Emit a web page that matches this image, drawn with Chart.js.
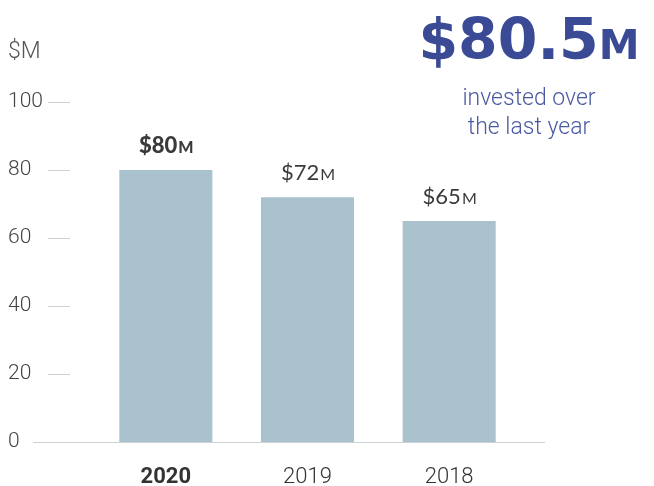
<!DOCTYPE html>
<html>
<head>
<meta charset="utf-8">
<script src="https://cdn.jsdelivr.net/npm/chart.js@4"></script>
<style>
  body { margin: 0; background: #fff; }
  #wrap { position: relative; width: 654px; height: 486px; }
  #unit { position: absolute; left: 8px; top: 37px; font: 300 23px Roboto, sans-serif; color: #555; }
  #headline { position: absolute; left: 404px; width: 250px; top: 8px; text-align: center; color: #3a4a94; }
  #headline .big { font: bold 57px "DejaVu Sans", sans-serif; line-height: 63px; letter-spacing: 0; }
  #headline .big span { font-size: 41px; }
  #headline .sub { font: 300 23px Roboto, sans-serif; line-height: 29px; color: #4a5aa2; margin-top: 6px; }
</style>
</head>
<body>
<div id="wrap">
  <canvas id="chart" width="654" height="486"></canvas>
  <div id="unit">$M</div>
  <div id="headline">
    <div class="big" id="big"></div>
    <div class="sub">invested over<br>the last year</div>
  </div>
</div>
<script>
const years = ["2020", "2019", "2018"];
const invested = [80, 72, 65];   // $M
const yTicks = [0, 20, 40, 60, 80, 100];
const lastYearTotal = 80.5;

document.getElementById("big").innerHTML = "$" + lastYearTotal + "<span>M</span>";

// baseline + short tick dashes next to the y labels
const axisDecor = {
  id: "axisDecor",
  beforeDatasetsDraw(chart) {
    const ctx = chart.ctx;
    const y = chart.scales.y;
    ctx.save();
    ctx.strokeStyle = "#cfd2d4";
    ctx.lineWidth = 1;
    yTicks.forEach(function (v) {
      const py = Math.round(y.getPixelForValue(v)) + 0.5;
      ctx.beginPath();
      if (v === 0) {
        ctx.moveTo(33, py);
        ctx.lineTo(545, py);
      } else {
        ctx.moveTo(48, py);
        ctx.lineTo(70, py);
      }
      ctx.stroke();
    });
    ctx.restore();
  },
};

// "$80M" style labels above the bars
const barLabels = {
  id: "barLabels",
  afterDatasetsDraw(chart) {
    const ctx = chart.ctx;
    const bars = chart.getDatasetMeta(0).data;
    ctx.save();
    ctx.fillStyle = "#3a3a3a";
    ctx.textBaseline = "alphabetic";
    bars.forEach(function (bar, i) {
      const weight = i === 0 ? "900" : "400";
      const main = "$" + invested[i];
      ctx.font = weight + " 22px Lato, sans-serif";
      const w1 = ctx.measureText(main).width;
      ctx.font = weight + " 16px Lato, sans-serif";
      const w2 = ctx.measureText("M").width;
      const x0 = bar.x - (w1 + w2) / 2;
      const yb = bar.y - 17;
      ctx.textAlign = "left";
      ctx.font = weight + " 22px Lato, sans-serif";
      ctx.fillText(main, x0, yb);
      ctx.font = weight + " 16px Lato, sans-serif";
      ctx.fillText("M", x0 + w1 + 1, yb);
    });
    ctx.restore();
  },
};

new Chart(document.getElementById("chart"), {
  type: "bar",
  data: {
    labels: years,
    datasets: [
      {
        data: invested,
        backgroundColor: "#a9c2ce",
        borderWidth: 0,
        categoryPercentage: 1,
        barPercentage: 0.657,
      },
    ],
  },
  options: {
    responsive: false,
    animation: false,
    layout: { padding: { left: 8, right: 134, top: 102, bottom: 0 } },
    plugins: { legend: { display: false }, tooltip: { enabled: false } },
    scales: {
      x: {
        grid: { display: false },
        border: { display: false },
        ticks: {
          padding: 14,
          color: "#333",
          font: function (c) {
            return { family: "Roboto", size: 22, weight: c.index === 0 ? "bold" : "300" };
          },
        },
        afterFit: function (s) { s.height = 44; },
      },
      y: {
        min: 0,
        max: 100,
        grid: { display: false },
        border: { display: false },
        afterBuildTicks: function (s) { s.ticks = yTicks.map(function (v) { return { value: v }; }); },
        ticks: {
          crossAlign: "far",
          color: "#444",
          font: { family: "Roboto", size: 21, weight: "300" },
        },
        afterFit: function (s) { s.width = 87; },
      },
    },
  },
  plugins: [axisDecor, barLabels],
});
</script>
</body>
</html>
